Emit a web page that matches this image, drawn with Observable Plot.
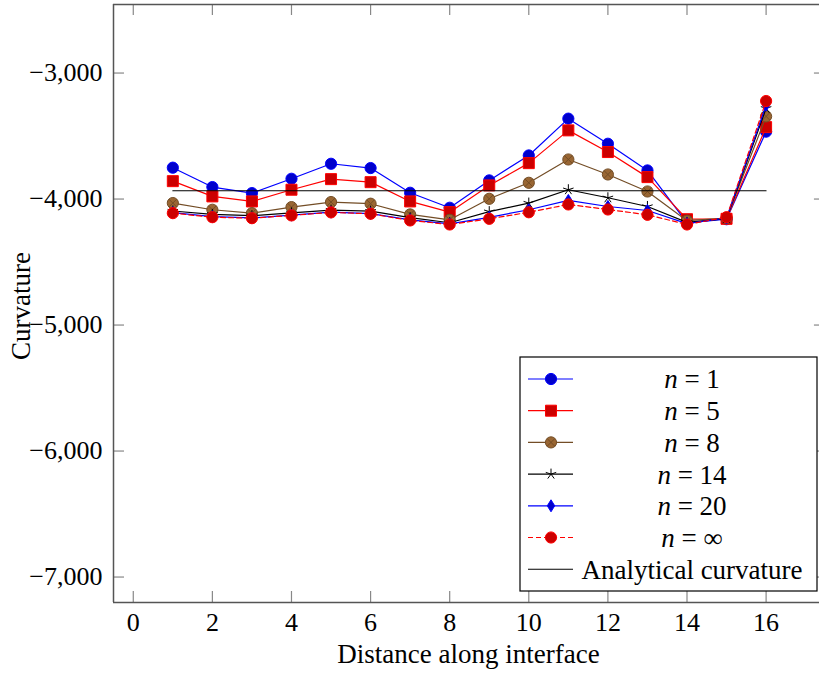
<!DOCTYPE html>
<html><head><meta charset="utf-8">
<script src="https://cdn.jsdelivr.net/npm/d3@7"></script>
<script src="https://cdn.jsdelivr.net/npm/@observablehq/plot@0.6"></script>
<style>
body{margin:0;background:#fff;}
#wrap{position:relative;width:819px;height:682px;overflow:hidden;background:#fff;}
</style></head><body><div id="wrap"></div>
<script>
const distance = [1,2,3,4,5,6,7,8,9,10,11,12,13,14,15,16];
const n1   = [-3751,-3905,-3953,-3839,-3720,-3754,-3950,-4069,-3852,-3654,-3362,-3561,-3773,-4190,-4160,-3465];
const n5   = [-3858,-3979,-4019,-3926,-3842,-3866,-4019,-4104,-3892,-3715,-3455,-3627,-3826,-4160,-4157,-3429];
const n8   = [-4032,-4085,-4112,-4064,-4024,-4037,-4122,-4165,-3998,-3871,-3686,-3805,-3940,-4172,-4152,-3344];
const n14  = [-4095,-4122,-4132,-4110,-4088,-4096,-4148,-4188,-4100,-4032,-3926,-3990,-4059,-4185,-4155,-3280];
const n20  = [-4108,-4140,-4150,-4128,-4104,-4115,-4165,-4197,-4145,-4085,-4011,-4059,-4091,-4195,-4150,-3255];
const nInf = [-4112,-4144,-4152,-4130,-4106,-4117,-4170,-4202,-4157,-4105,-4043,-4083,-4125,-4202,-4144,-3222];
const analyticalX = [1, 16];
const analyticalY = [-3934, -3934];
const legendLabels = ["1", "5", "8", "14", "20", "\u221E"];
const xTicks = [0,2,4,6,8,10,12,14,16];
const yTicks = [-7000,-6000,-5000,-4000,-3000];

const FONT = "'Liberation Serif', 'DejaVu Serif', serif";
const xMin = -0.5, xMax = 17.5, xVisMax = 17.35;
const yMin = -7202, yMax = -2456;
const tickLenX = 11 / 39.56, tickLenY = 11 / 0.1259;

// custom pgfplots-like marks
const symCircle = {draw(c, s){ const r = Math.sqrt(s/Math.PI); c.moveTo(r,0); c.arc(0,0,r,0,2*Math.PI); c.closePath(); }};
const symSquare = {draw(c, s){ const r = Math.sqrt(s/Math.PI); c.rect(-r,-r,2*r,2*r); }};
const symOtimes = {draw(c, s){ const r = Math.sqrt(s/Math.PI); c.moveTo(r,0); c.arc(0,0,r,0,2*Math.PI); c.closePath();
  const k = r*Math.SQRT1_2; c.moveTo(-k,-k); c.lineTo(k,k); c.moveTo(-k,k); c.lineTo(k,-k); }};
const symStar = {draw(c, s){ const r = Math.sqrt(s/Math.PI);
  for (let i=0;i<5;i++){ const a = -Math.PI/2 + i*2*Math.PI/5; c.moveTo(0,0); c.lineTo(r*Math.cos(a), r*Math.sin(a)); } }};
const symDiamond = {draw(c, s){ const r = Math.sqrt(s/Math.PI); const w = r*0.62;
  c.moveTo(0,-r); c.lineTo(w,0); c.lineTo(0,r); c.lineTo(-w,0); c.closePath(); }};

const series = [
  {values:n1,   stroke:"#0000ff", fill:"#0000cc", symbol:symCircle,  r:5.6, dash:null},
  {values:n5,   stroke:"#ff0000", fill:"#cc0000", symbol:symSquare,  r:5.5, dash:null},
  {values:n8,   stroke:"#734d26", fill:"#996633", symbol:symOtimes,  r:5.6, dash:null},
  {values:n14,  stroke:"#000000", fill:"none",    symbol:symStar,    r:5.5, dash:null},
  {values:n20,  stroke:"#0000ff", fill:"#0000cc", symbol:symDiamond, r:6,   dash:null},
  {values:nInf, stroke:"#ff0000", fill:"#cc0000", symbol:symCircle,  r:5.6, dash:"5,3"}
];

const marks = [];
for (const s of series) {
  const rows = distance.map((d,i) => ({x:d, y:s.values[i]}));
  marks.push(Plot.line(rows, {x:"x", y:"y", stroke:s.stroke, strokeWidth:1.2, strokeDasharray:s.dash}));
  marks.push(Plot.dot(rows, {x:"x", y:"y", symbol:s.symbol, r:s.r, fill:s.fill, stroke:s.stroke, strokeWidth:1}));
}
const anaRows = analyticalX.map((d,i)=>({x:d, y:analyticalY[i]}));
marks.push(Plot.line(anaRows, {x:"x", y:"y", stroke:"#000", strokeWidth:1.1}));

const chart = Plot.plot({
  width: 819, height: 682,
  marginLeft: 113, marginRight: 0, marginTop: 4, marginBottom: 80,
  style: {fontFamily: FONT, fontSize: "26px", background: "#fff", overflow: "visible"},
  x: {domain: [xMin, xVisMax]},
  y: {domain: [yMin, yMax]},
  marks: [
    Plot.ruleY(yTicks, {y: d=>d, x1: xMin, x2: xMin + tickLenX, stroke:"#888", strokeWidth:1.2}),
    Plot.ruleY(yTicks, {y: d=>d, x1: xMax - tickLenX, x2: xMax, stroke:"#888", strokeWidth:1.2}),
    Plot.ruleX(xTicks, {x: d=>d, y1: yMin, y2: yMin + tickLenY, stroke:"#888", strokeWidth:1.2}),
    Plot.ruleX(xTicks, {x: d=>d, y1: yMax, y2: yMax - tickLenY, stroke:"#888", strokeWidth:1.2}),
    Plot.axisY(yTicks, {tickSize:0, tickPadding:11, tickFormat: d3.format(","), fontSize:26, label:null}),
    Plot.axisX(xTicks, {tickSize:0, tickPadding:10, fontSize:26, label:null}),
    ...marks,
    Plot.ruleX([xMin], {stroke:"#555", strokeWidth:1.5}),
    Plot.ruleY([yMin, yMax], {x1: xMin, x2: xMax, stroke:"#555", strokeWidth:1.5})
  ]
});
document.getElementById("wrap").appendChild(chart);

const svg = d3.select(chart);
svg.append("text").attr("x", 468.5).attr("y", 663).attr("text-anchor","middle")
  .attr("font-family", FONT).attr("font-size", 27).attr("fill","#000").text("Distance along interface");
svg.append("text").attr("transform","translate(30,306) rotate(-90)").attr("text-anchor","middle")
  .attr("font-family", FONT).attr("font-size", 27).attr("fill","#000").text("Curvature");

// legend
const lg = svg.append("g");
lg.append("rect").attr("x",520).attr("y",357).attr("width",297).attr("height",234)
  .attr("fill","#fff").attr("stroke","#000").attr("stroke-width",1.2);
const rowY = i => 379 + i*31.7;
series.forEach((s,i) => {
  const y = rowY(i);
  lg.append("line").attr("x1",528).attr("x2",573).attr("y1",y).attr("y2",y)
    .attr("stroke", s.stroke).attr("stroke-width",1.2).attr("stroke-dasharray", s.dash);
  lg.append("path").attr("transform",`translate(551,${y})`)
    .attr("d", d3.symbol(s.symbol, Math.PI*s.r*s.r)())
    .attr("fill", s.fill).attr("stroke", s.stroke).attr("stroke-width",1);
  const t = lg.append("text").attr("x",692).attr("y",y).attr("dy","0.35em").attr("text-anchor","middle")
    .attr("font-family",FONT).attr("font-size",27).attr("fill","#000");
  t.append("tspan").attr("font-style","italic").text("n");
  t.append("tspan").text("\u2005=\u2005" + legendLabels[i]);
});
{
  const y = rowY(6);
  lg.append("line").attr("x1",528).attr("x2",573).attr("y1",y).attr("y2",y).attr("stroke","#000").attr("stroke-width",1.1);
  lg.append("text").attr("x",692).attr("y",y).attr("dy","0.35em").attr("text-anchor","middle")
    .attr("font-family",FONT).attr("font-size",27).attr("fill","#000").text("Analytical curvature");
}
</script></body></html>
